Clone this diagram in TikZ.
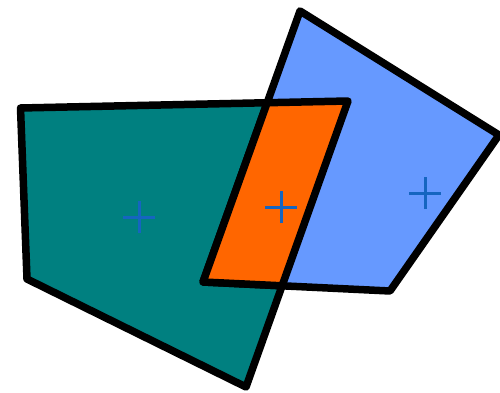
\documentclass[tikz,border=0pt]{standalone}
\usepackage{xcolor}
\usepackage{tikz}
\definecolor{tealfill}{HTML}{008080}
\definecolor{bluefill}{HTML}{6699FF}
\definecolor{orangefill}{HTML}{FF6600}
\definecolor{crossblue}{HTML}{1565C0}

\begin{document}
\begin{tikzpicture}[x=1pt,y=-1pt,
  region/.style={draw=black,line width=7.5pt,line join=round},
  centre/.style={draw=crossblue,line width=3pt},
]
  \useasboundingbox (0,0) rectangle (500,393);

  % corners of the two quadrilaterals
  \coordinate (t1) at (20.5,108);
  \coordinate (t2) at (348,101);
  \coordinate (t3) at (246,387);
  \coordinate (t4) at (27,279);
  \coordinate (b1) at (300,11);
  \coordinate (b2) at (499,135);
  \coordinate (b3) at (390,291);
  \coordinate (b4) at (203,282);

  \draw[region,fill=tealfill] (t1) -- (t2) -- (t3) -- (t4) -- cycle;
  \draw[region,fill=bluefill] (b1) -- (b2) -- (b3) -- (b4) -- cycle;

  % overlap
  \coordinate (i1) at (intersection of t1--t2 and b1--b4);
  \coordinate (i2) at (intersection of t2--t3 and b3--b4);
  \draw[region,fill=orangefill] (i1) -- (t2) -- (i2) -- (b4) -- cycle;

  % centres
  \coordinate (ct) at (139,217);
  \coordinate (co) at (281,207);
  \coordinate (cb) at (425,193);
  \foreach \c in {ct,co,cb} {
    \draw[centre] ([xshift=-16pt]\c) -- ([xshift=16pt]\c);
    \draw[centre] ([yshift=-16pt]\c) -- ([yshift=16pt]\c);
  }
\end{tikzpicture}
\end{document}
